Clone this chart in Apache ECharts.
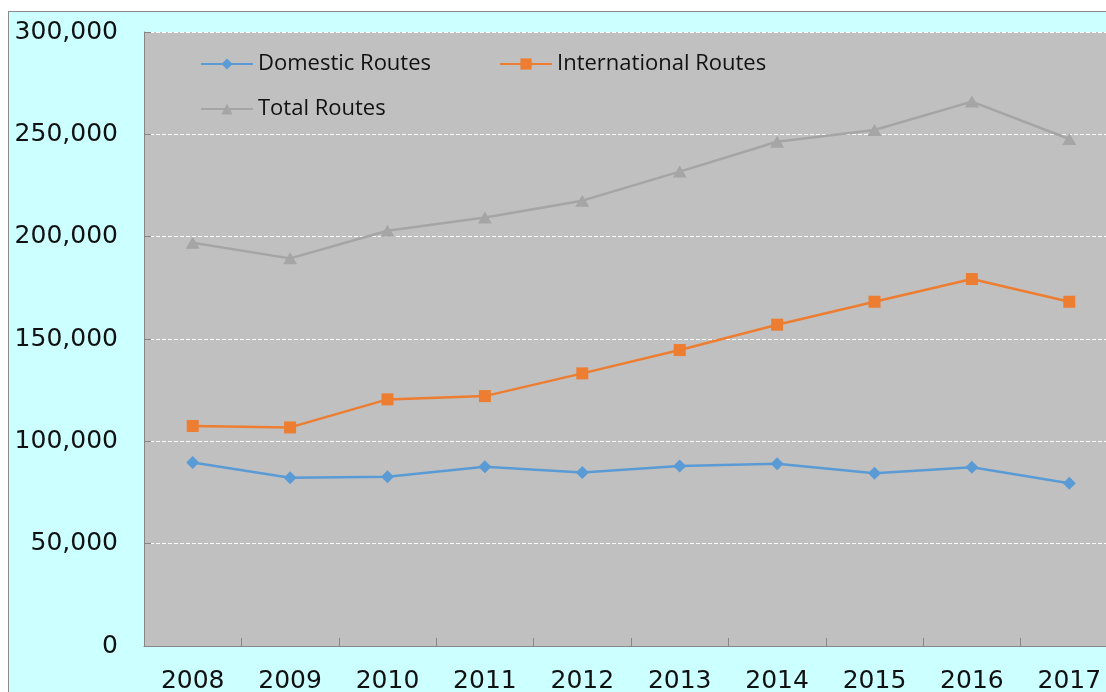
<!DOCTYPE html>
<html>
<head>
<meta charset="utf-8">
<script src="https://cdn.jsdelivr.net/npm/echarts@6/dist/echarts.min.js"></script>
<style>
  html, body { margin: 0; padding: 0; background: #ffffff; overflow: hidden; }
  #frame { position: absolute; left: 8px; top: 11px; width: 1200px; height: 800px;
           background: #CCFFFF; border-left: 1px solid #8c8c8c; border-top: 1px solid #8c8c8c; }
  #chart { position: absolute; left: 0; top: 0; width: 1106px; height: 692px; }
</style>
</head>
<body>
<div id="frame"></div>
<div id="chart"></div>
<script>
const years = ['2008', '2009', '2010', '2011', '2012', '2013', '2014', '2015', '2016', '2017'];
const domestic = [89700, 82200, 82700, 87600, 84800, 87900, 89100, 84400, 87300, 79500];
const international = [107500, 106800, 120500, 122100, 133200, 144600, 157000, 168200, 179300, 168200];
const total = [197000, 189400, 202900, 209400, 217600, 231800, 246400, 252100, 266000, 247700];
const seriesNames = ['Domestic Routes', 'International Routes', 'Total Routes'];

const chart = echarts.init(document.getElementById('chart'), null, { renderer: 'canvas' });

const legendText = { fontFamily: 'Open Sans', fontSize: 22, color: '#111111' };
function legendAt(name, left, top) {
  return {
    data: [name], left: left, top: top, orient: 'horizontal',
    itemWidth: 52, itemHeight: 14, itemGap: 0, padding: 0,
    textStyle: Object.assign({ padding: [0, 0, 0, 0] }, legendText),
    selectedMode: false
  };
}

chart.setOption({
  backgroundColor: 'transparent',
  animation: false,
  legend: [
    legendAt(seriesNames[0], 200, 53),
    legendAt(seriesNames[1], 499, 53),
    legendAt(seriesNames[2], 200, 98)
  ],
  grid: {
    left: 144, top: 32, right: -12, bottom: 46,
    show: true, backgroundColor: '#C0C0C0', borderWidth: 0,
    containLabel: false, outerBoundsMode: 'none'
  },
  xAxis: {
    type: 'category', data: years, boundaryGap: true,
    axisLine: { show: true, lineStyle: { color: '#868686', width: 1 } },
    axisTick: { show: true, inside: true, length: 8, lineStyle: { color: '#868686' } },
    axisLabel: { fontFamily: 'DejaVu Sans', fontSize: 25, color: '#111111', margin: 23, interval: 0 },
    splitLine: { show: false }
  },
  yAxis: {
    type: 'value', min: 0, max: 300000, interval: 50000,
    axisLine: { show: true, lineStyle: { color: '#868686', width: 1 } },
    axisTick: { show: true, inside: true, length: 7, lineStyle: { color: '#868686' } },
    axisLabel: {
      fontFamily: 'DejaVu Sans', fontSize: 25, color: '#111111', margin: 26,
      formatter: v => v.toLocaleString('en-US')
    },
    splitLine: { show: true, lineStyle: { color: '#ffffff', width: 1, type: [4, 2] } }
  },
  series: [
    {
      name: seriesNames[0], type: 'line', data: domestic,
      symbol: 'diamond', symbolSize: 13, showAllSymbol: true,
      lineStyle: { color: '#5B9BD5', width: 2.5 },
      itemStyle: { color: '#5B9BD5' }, z: 3
    },
    {
      name: seriesNames[1], type: 'line', data: international,
      symbol: 'rect', symbolSize: 12, showAllSymbol: true,
      lineStyle: { color: '#ED7D31', width: 2.5 },
      itemStyle: { color: '#ED7D31' }, z: 3
    },
    {
      name: seriesNames[2], type: 'line', data: total,
      symbol: 'triangle', symbolSize: [14, 12], showAllSymbol: true,
      lineStyle: { color: '#A5A5A5', width: 2.5 },
      itemStyle: { color: '#A5A5A5' }, z: 3
    }
  ]
});
</script>
</body>
</html>
